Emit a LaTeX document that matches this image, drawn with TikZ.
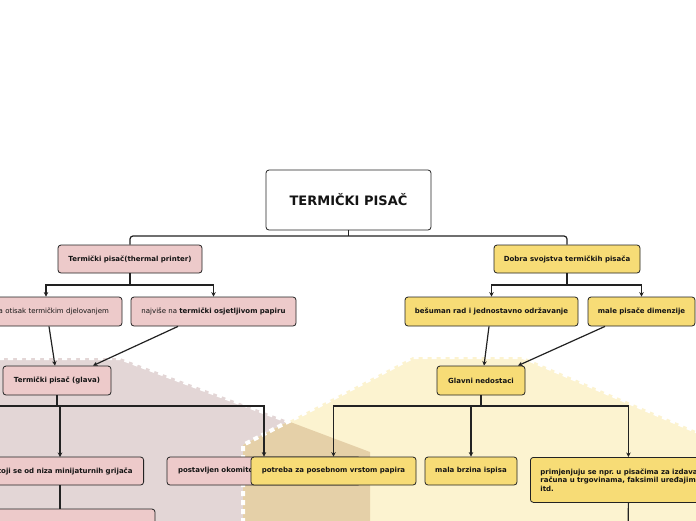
\documentclass[tikz,border=0pt]{standalone}
\usepackage{fontspec}
\setmainfont{DejaVu Sans}
\usetikzlibrary{arrows.meta}
\frenchspacing
\definecolor{pinkbg}{RGB}{227,214,214}
\definecolor{yellowbg}{RGB}{252,243,208}
\definecolor{overlapbg}{RGB}{229,208,168}
\definecolor{pinknode}{RGB}{237,202,202}
\definecolor{yellownode}{RGB}{247,220,118}
\definecolor{linec}{RGB}{34,34,34}
\definecolor{txt}{RGB}{20,20,20}
\tikzset{
  box/.style={draw=linec, line width=0.8pt, rounded corners=3pt, text=txt,
    font=\fontsize{7}{8.4}\selectfont\bfseries, inner sep=0pt, align=center},
  pk/.style={box, fill=pinknode},
  yl/.style={box, fill=yellownode},
  conn/.style={draw=linec, line width=1.2pt},
  arr/.style={conn, -{Stealth[length=4.5pt,width=4.5pt]}},
  bgborder/.style={draw=white, line width=4pt, dash pattern=on 5pt off 4pt},
}
\begin{document}
\begin{tikzpicture}[x=1pt,y=-1pt]
\fill[white] (0,0) rectangle (696,520);
\useasboundingbox (0,0) rectangle (696,520);
% background shapes
\def\pinkpoly{(-100,358) -- (120,358) -- (370,452) -- (370,640) -- (-100,640) -- cycle}
\def\yellowpoly{(243,640) -- (243,445) -- (413,357) -- (523,357) -- (850,497) -- (850,640) -- cycle}
\fill[pinkbg] \pinkpoly;
\draw[bgborder] \pinkpoly;
\fill[yellowbg] \yellowpoly;
\begin{scope}
  \clip \pinkpoly;
  \fill[overlapbg] \yellowpoly;
\end{scope}
\draw[bgborder] \yellowpoly;

% nodes
\node[box, fill=white, minimum width=165pt, minimum height=60pt,
  font=\fontsize{13}{15}\selectfont\bfseries] (root) at (348.5,200) {TERMIČKI PISAČ};
\node[pk, minimum width=144pt, minimum height=28pt] (A) at (130,259) {Termički pisač(thermal printer)};
\node[yl, minimum width=146pt, minimum height=28pt] (B) at (567,259) {Dobra svojstva termičkih pisača};
\node[pk, minimum height=29pt, text width=126pt, inner xsep=13pt, align=right,
  font=\fontsize{7}{8.4}\selectfont] (A1) at (46,311.5) {a otisak termičkim djelovanjem};
\node[pk, minimum width=165pt, minimum height=29pt, font=\fontsize{7}{8.4}\selectfont] (A2) at (213.5,311.5)
  {najviše na \textbf{termički osjetljivom papiru}};
\node[yl, minimum width=173pt, minimum height=29pt] (B1) at (491.5,311.5) {bešuman rad i jednostavno održavanje};
\node[yl, minimum width=107pt, minimum height=29pt] (B2) at (641.5,311.5) {male pisače dimenzije};
\node[pk, minimum width=108pt, minimum height=29pt] (C) at (57,380.5) {Termički pisač (glava)};
\node[yl, minimum width=88pt, minimum height=29pt] (D) at (481,380.5) {Glavni nedostaci};
\node[pk, anchor=east, minimum height=28pt, text width=170pt, inner xsep=11pt, align=right] (C1) at (144,471)
  {sastoji se od niza minijaturnih grijača};
\node[pk, minimum width=190pt, minimum height=30pt] (C1a) at (60,524) {};
\node[pk, minimum height=28pt, text width=172pt, inner xsep=11pt, align=left] (C2) at (264,471) {postavljen okomito};
\node[yl, minimum width=165pt, minimum height=28pt] (D1) at (333.5,471) {potreba za posebnom vrstom papira};
\node[yl, minimum width=92pt, minimum height=28pt] (D2) at (471,471) {mala brzina ispisa};
\node[yl, anchor=north west, minimum height=45pt, text width=186pt, inner xsep=10pt, align=left] (D3) at (530,457)
  {primjenjuju se npr. u pisačima za izdavanje\\računa u trgovinama, faksimil uređajima\\itd.};

% junction coordinates
\coordinate (rj) at (348.5,236);
\coordinate (aj) at (130,285);
\coordinate (bj) at (567,285);
\coordinate (cj) at (57,406);
\coordinate (dj) at (481,406);
\coordinate (coff) at (-30,457);
\coordinate (c1top) at (60,457);
\coordinate (doff) at (628,540);

% connectors
\draw[conn] (root.south) -- (rj);
\draw[conn, rounded corners=3pt] (A.north) |- (rj) -| (B.north);
\draw[conn] (A.south) -- (aj);
\draw[arr] (aj) -| (A1.north);
\draw[arr] (aj) -| (A2.north);
\draw[conn] (B.south) -- (bj);
\draw[arr] (bj) -| (B1.north);
\draw[arr] (bj) -| (B2.north);
\draw[arr] ([xshift=3pt]A1.south) -- ([xshift=-2pt]C.north);
\draw[arr] ([xshift=-35.5pt]A2.south) -- ([xshift=36pt]C.north);
\draw[arr] ([xshift=-2.5pt]B1.south) -- ([xshift=3pt]D.north);
\draw[arr] ([xshift=-36.5pt]B2.south) -- ([xshift=37pt]D.north);
\draw[conn] (C.south) -- (cj);
\draw[arr] (cj) -| (coff);
\draw[arr] (cj) -| (c1top);
\draw[arr] (cj) -| (C2.north);
\draw[conn] (C1.south -| c1top) -- (C1a.north);
\draw[conn] (D.south) -- (dj);
\draw[arr] (dj) -| (D1.north);
\draw[arr] (dj) -| (D2.north);
\draw[arr] (dj) -| ([xshift=-5pt]D3.north);
\draw[conn] ([xshift=-5pt]D3.south) -- (doff);
\end{tikzpicture}
\end{document}
